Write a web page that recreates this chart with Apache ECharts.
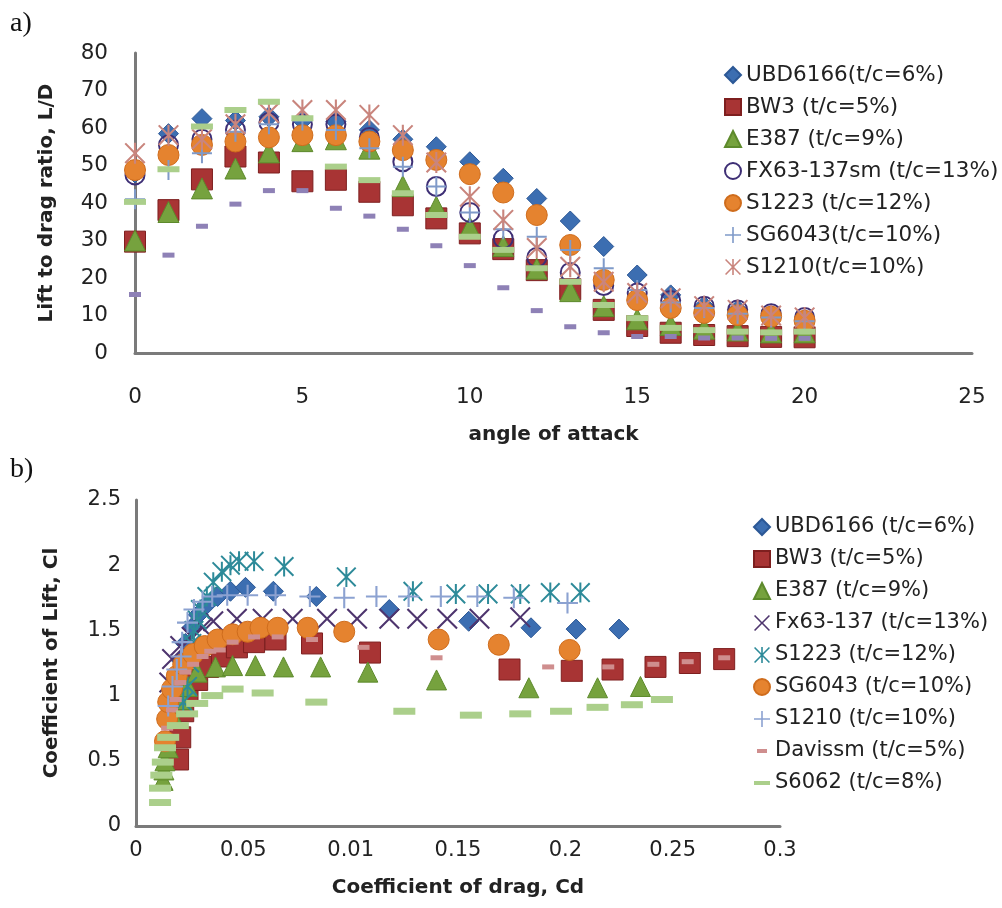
<!DOCTYPE html>
<html>
<head>
<meta charset="utf-8">
<title>Airfoil performance</title>
<script src="https://cdn.jsdelivr.net/npm/echarts@6/dist/echarts.min.js"></script>
<style>
  html, body { margin: 0; padding: 0; background: #fff; }
  #chartA { position: absolute; left: 0; top: 0; width: 1002px; height: 450px; }
  #chartB { position: absolute; left: 0; top: 450px; width: 1002px; height: 458px; }
</style>
</head>
<body>
<div id="chartA"></div>
<div id="chartB"></div>
<script>
// ---------- a) lift-to-drag ratio against angle of attack ----------
const angles = [0,1,2,3,4,5,6,7,8,9,10,11,12,13,14,15,16,17,18,19,20];
const ldUBD6166 = [48, 58.5, 62.5, 62, 63, 62, 61.7, 59.5, 57, 55, 51, 46.6, 41.2, 35.2, 28.4, 20.8, 15.5, 12.5, 11.5, 10, 9];
const ldBW3     = [29.7, 38.1, 46.3, 52.4, 50.8, 45.8, 46.2, 43.0, 39.4, 35.9, 31.9, 27.7, 22.1, 17, 11.5, 7.2, 5.4, 4.8, 4.5, 4.3, 4.2];
const ldE387    = [30, 37.6, 43.9, 49.2, 53.5, 56.5, 57, 54.5, 44.5, 39, 33.5, 28.5, 22.5, 16.5, 12.5, 9, 7.5, 6.5, 6, 5.5, 5.5];
const ldFX63    = [47.5, 55.5, 57, 59.5, 61.5, 61, 61, 57.5, 51, 44.4, 37.5, 30.5, 25.5, 21.5, 18, 16, 14, 12.5, 11.5, 10.5, 9.5];
const ldS1223   = [48.8, 52.8, 55.5, 56.4, 57.5, 58.1, 58.1, 56.4, 54.1, 51.5, 47.7, 42.8, 36.8, 28.8, 19.5, 14.1, 12, 10.7, 10.1, 9.7, 8.6];
const ldSG6043  = [41, 48.8, 53.3, 59, 61, 62, 59.5, 54.6, 49.7, 44.4, 37.5, 33, 31, 27.5, 22.6, 16.8, 13.5, 12, 10.5, 9.5, 8.5];
const ldS1210   = [53.3, 58.1, 57, 61, 64, 64.8, 64.8, 63.5, 58.1, 50.8, 41.7, 35.5, 28, 23, 19, 16, 14.6, 12.5, 11.5, 10, 9.5];
const ldS6062   = [40.3, 49, 60.4, 64.8, 67, 62.6, 49.7, 46.1, 42.6, 36.8, 31, 27.5, 22.6, 19, 12.8, 9.3, 6.7, 6.1, 5.7, 5.5, 5.7];
const ldDavissm = [15.6, 26.1, 33.8, 39.7, 43.3, 43.3, 38.6, 36.5, 33.0, 28.6, 23.3, 17.4, 11.3, 7.0, 5.4, 4.4, 4.4, 4.0, 4.0, 3.9, 3.9];

const namesA = ['UBD6166(t/c=6%)', 'BW3 (t/c=5%)', 'E387 (t/c=9%)', 'FX63-137sm (t/c=13%)',
                'S1223 (t/c=12%)', 'SG6043(t/c=10%)', 'S1210(t/c=10%)'];
const yTicksA = [0, 10, 20, 30, 40, 50, 60, 70, 80];
const xTicksA = [0, 5, 10, 15, 20, 25];

// ---------- b) lift coefficient against drag coefficient ----------
const cdUBD6166 = [0.0155, 0.017, 0.019, 0.021, 0.023, 0.026, 0.029, 0.033, 0.038, 0.044, 0.051, 0.064, 0.084, 0.118, 0.155, 0.184, 0.205, 0.225];
const clUBD6166 = [0.82, 0.98, 1.12, 1.27, 1.4, 1.52, 1.62, 1.70, 1.76, 1.80, 1.83, 1.80, 1.76, 1.66, 1.57, 1.52, 1.51, 1.51];
const cdBW3 = [0.0196, 0.0206, 0.022, 0.024, 0.0285, 0.0336, 0.040, 0.047, 0.055, 0.065, 0.082, 0.109, 0.174, 0.203, 0.222, 0.242, 0.258, 0.274];
const clBW3 = [0.51, 0.68, 0.88, 1.02, 1.12, 1.22, 1.30, 1.37, 1.41, 1.43, 1.40, 1.33, 1.20, 1.19, 1.20, 1.22, 1.25, 1.28];
const cdE387 = [0.0126, 0.013, 0.0135, 0.015, 0.0173, 0.0215, 0.024, 0.0285, 0.037, 0.045, 0.0556, 0.0687, 0.086, 0.108, 0.140, 0.183, 0.215, 0.235];
const clE387 = [0.35, 0.43, 0.5, 0.6, 0.84, 0.97, 1.07, 1.18, 1.22, 1.23, 1.23, 1.22, 1.22, 1.18, 1.12, 1.06, 1.06, 1.07];
const cdFx63 = [0.0155, 0.0168, 0.0206, 0.026, 0.031, 0.036, 0.047, 0.059, 0.073, 0.089, 0.103, 0.118, 0.131, 0.145, 0.160, 0.179];
const clFx63 = [1.1, 1.28, 1.38, 1.45, 1.52, 1.57, 1.59, 1.59, 1.59, 1.59, 1.59, 1.59, 1.59, 1.59, 1.59, 1.60];
const cdS1223 = [0.022, 0.024, 0.025, 0.026, 0.027, 0.0285, 0.030, 0.033, 0.036, 0.040, 0.044, 0.048, 0.055, 0.069, 0.098, 0.129, 0.149, 0.164, 0.179, 0.193, 0.207];
const clS1223 = [0.95, 1.07, 1.25, 1.40, 1.50, 1.58, 1.66, 1.76, 1.87, 1.95, 2.0, 2.03, 2.03, 1.99, 1.91, 1.80, 1.78, 1.78, 1.78, 1.79, 1.79];
const cdSG6043 = [0.0135, 0.0145, 0.015, 0.0168, 0.019, 0.022, 0.0266, 0.032, 0.038, 0.045, 0.052, 0.058, 0.066, 0.080, 0.097, 0.141, 0.169, 0.202];
const clSG6043 = [0.65, 0.82, 0.95, 1.05, 1.15, 1.24, 1.32, 1.38, 1.43, 1.47, 1.49, 1.52, 1.52, 1.52, 1.49, 1.43, 1.39, 1.35];
const cdS1210 = [0.015, 0.017, 0.019, 0.021, 0.0215, 0.024, 0.027, 0.031, 0.0355, 0.0425, 0.052, 0.065, 0.081, 0.097, 0.112, 0.127, 0.142, 0.159, 0.176, 0.201];
const clS1210 = [0.92, 1.07, 1.2, 1.3, 1.41, 1.56, 1.66, 1.72, 1.76, 1.77, 1.77, 1.77, 1.76, 1.75, 1.76, 1.76, 1.76, 1.76, 1.75, 1.71];
const cdDavissm = [0.013, 0.0145, 0.0168, 0.0185, 0.0206, 0.023, 0.0266, 0.031, 0.0346, 0.039, 0.045, 0.055, 0.066, 0.082, 0.106, 0.140, 0.192, 0.220, 0.241, 0.257, 0.274];
const clDavissm = [0.6, 0.75, 0.89, 0.97, 1.10, 1.18, 1.24, 1.30, 1.34, 1.35, 1.41, 1.45, 1.45, 1.43, 1.37, 1.29, 1.22, 1.22, 1.24, 1.26, 1.29];
const cdS6062 = [0.0112, 0.0112, 0.0118, 0.0125, 0.0135, 0.015, 0.0195, 0.0238, 0.0285, 0.0355, 0.045, 0.059, 0.084, 0.125, 0.156, 0.179, 0.198, 0.215, 0.231, 0.245];
const clS6062 = [0.18, 0.29, 0.39, 0.49, 0.60, 0.68, 0.77, 0.86, 0.94, 1.0, 1.05, 1.02, 0.95, 0.88, 0.85, 0.86, 0.88, 0.91, 0.93, 0.97];

const namesB = ['UBD6166 (t/c=6%)', 'BW3 (t/c=5%)', 'E387 (t/c=9%)', 'Fx63-137 (t/c=13%)',
                'S1223 (t/c=12%)', 'SG6043 (t/c=10%)', 'S1210 (t/c=10%)', 'Davissm (t/c=5%)', 'S6062 (t/c=8%)'];
const yTicksB = ['0', '0.5', '1', '1.5', '2', '2.5'];
const xTicksB = ['0', '0.05', '0.01', '0.15', '0.2', '0.25', '0.3'];

// ---------- marker shapes ----------
const PLUS = 'path://M9,0h2v9h9v2h-9v9h-2v-9h-9v-2h9z';
const XMARK = 'path://M0,1.4L1.4,0L10,8.6L18.6,0L20,1.4L11.4,10L20,18.6L18.6,20L10,11.4L1.4,20L0,18.6L8.6,10Z';
const STAR = 'path://M0,1.4L1.4,0L10,8.6L18.6,0L20,1.4L11.4,10L20,18.6L18.6,20L10,11.4L1.4,20L0,18.6L8.6,10Z M9,0h2v20h-2z';
const DASH_ICON_SHORT = 'path://M0,0L0,0M16,16L16,16M3,6h10v4h-10z';
const DASH_ICON_LONG = 'path://M0,0L0,0M16,16L16,16M0,6h16v4h-16z';

const C = {
  blue: '#3C6EB1', blueEdge: '#2C5896',
  red: '#A83434', redEdge: '#7E1F1F',
  green: '#76A23E', greenEdge: '#5D8A2C',
  purple: '#3E2F75', xPurple: '#4E356E',
  orange: '#E5832F', orangeEdge: '#CF6C1C',
  steel: '#7F9AC9', pink: '#C9857D', teal: '#2D8A99',
  lightGreen: '#ABCF8B', lavender: '#8E81B6', rose: '#CF8E8E'
};

const FONT = 'DejaVu Sans';
const TEXT = '#222';

function pairs(xs, ys) { return xs.map((x, i) => [x, ys[i]]); }
function byAngle(vals) { return angles.map((a, i) => [a, vals[i]]); }

function sc(name, data, symbol, size, color, edge, edgeWidth, z) {
  return {
    type: 'scatter', name, data, symbol, symbolSize: size,
    itemStyle: { color, borderColor: edge || color, borderWidth: edgeWidth == null ? 0 : edgeWidth, opacity: 1 },
    emphasis: { disabled: true }, z: z || 2
  };
}

function axisLine() { return { show: true, lineStyle: { color: '#7A7A7A', width: 3 } }; }

// ---------- chart a ----------
const chartA = echarts.init(document.getElementById('chartA'), null, { renderer: 'canvas' });
chartA.setOption({
  animation: false,
  backgroundColor: '#fff',
  textStyle: { fontFamily: FONT },
  grid: { left: 135, top: 53, width: 837, height: 300, containLabel: false },
  xAxis: {
    type: 'value', min: xTicksA[0], max: xTicksA[xTicksA.length - 1], interval: 5,
    axisLine: axisLine(), axisTick: { show: false }, splitLine: { show: false },
    axisLabel: { margin: 33, fontSize: 21.5, color: TEXT, fontFamily: FONT },
    name: 'angle of attack', nameLocation: 'middle', nameGap: 72,
    nameTextStyle: { fontSize: 20, fontWeight: 'bold', color: TEXT, fontFamily: FONT }
  },
  yAxis: {
    type: 'value', min: yTicksA[0], max: yTicksA[yTicksA.length - 1], interval: 10,
    axisLine: axisLine(), axisTick: { show: false }, splitLine: { show: false },
    axisLabel: { margin: 27, fontSize: 21.5, color: TEXT, fontFamily: FONT },
    name: 'Lift to drag ratio, L/D', nameLocation: 'middle', nameGap: 78,
    nameTextStyle: { fontSize: 20, fontWeight: 'bold', color: TEXT, fontFamily: FONT }
  },
  legend: {
    orient: 'vertical', left: 719, top: 59, itemWidth: 16, itemHeight: 16, itemGap: 10,
    selectedMode: false,
    textStyle: { fontFamily: FONT, fontSize: 21.5, color: TEXT, lineHeight: 22 },
    data: namesA
  },
  graphic: [{ type: 'text', left: 10, top: 10, style: { text: 'a)', font: '28px "Liberation Serif", serif', fill: '#111' } }],
  series: [
    sc(namesA[0], byAngle(ldUBD6166), 'diamond', 20, C.blue, C.blueEdge, 1),
    sc(namesA[1], byAngle(ldBW3), 'rect', 21, C.red, C.redEdge, 1),
    sc(namesA[2], byAngle(ldE387), 'triangle', 21, C.green, C.greenEdge, 1),
    sc(namesA[3], byAngle(ldFX63), 'circle', 19, 'rgba(255,255,255,0)', C.purple, 2),
    sc(namesA[4], byAngle(ldS1223), 'circle', 21, C.orange, C.orangeEdge, 1),
    sc(namesA[5], byAngle(ldSG6043), PLUS, 20, C.steel),
    sc(namesA[6], byAngle(ldS1210), STAR, 21, C.pink),
    sc('S6062 (t/c=8%)', byAngle(ldS6062), 'rect', [22, 6], C.lightGreen),
    sc('Davissm (t/c=5%)', byAngle(ldDavissm), 'rect', [12, 5], C.lavender)
  ]
});

// ---------- chart b ----------
const chartB = echarts.init(document.getElementById('chartB'), null, { renderer: 'canvas' });
chartB.setOption({
  animation: false,
  backgroundColor: '#fff',
  textStyle: { fontFamily: FONT },
  grid: { left: 136, top: 50, width: 644, height: 326, containLabel: false },
  xAxis: {
    type: 'value', min: 0, max: 0.3, interval: 0.05,
    axisLine: axisLine(), axisTick: { show: false }, splitLine: { show: false },
    axisLabel: { margin: 14, fontSize: 21, color: TEXT, fontFamily: FONT,
                 formatter: v => xTicksB[Math.round(v / 0.05)] },
    name: 'Coefficient of drag, Cd', nameLocation: 'middle', nameGap: 52,
    nameTextStyle: { fontSize: 20, fontWeight: 'bold', color: TEXT, fontFamily: FONT }
  },
  yAxis: {
    type: 'value', min: 0, max: 2.5, interval: 0.5,
    axisLine: axisLine(), axisTick: { show: false }, splitLine: { show: false },
    axisLabel: { margin: 15, fontSize: 21, color: TEXT, fontFamily: FONT,
                 formatter: v => yTicksB[Math.round(v / 0.5)] },
    name: 'Coefficient of Lift, Cl', nameLocation: 'middle', nameGap: 74,
    nameTextStyle: { fontSize: 20, fontWeight: 'bold', color: TEXT, fontFamily: FONT }
  },
  legend: {
    orient: 'vertical', left: 748, top: 61, itemWidth: 16, itemHeight: 16, itemGap: 10,
    selectedMode: false,
    textStyle: { fontFamily: FONT, fontSize: 21, color: TEXT, lineHeight: 22 },
    data: namesB.map((n, i) => i === 7 ? { name: n, icon: DASH_ICON_SHORT }
                           : i === 8 ? { name: n, icon: DASH_ICON_LONG } : n)
  },
  graphic: [{ type: 'text', left: 10, top: 6, style: { text: 'b)', font: '28px "Liberation Serif", serif', fill: '#111' } }],
  series: [
    sc(namesB[0], pairs(cdUBD6166, clUBD6166), 'diamond', 20, C.blue, C.blueEdge, 1),
    sc(namesB[1], pairs(cdBW3, clBW3), 'rect', 21, C.red, C.redEdge, 1),
    sc(namesB[2], pairs(cdE387, clE387), 'triangle', 20, C.green, C.greenEdge, 1),
    sc(namesB[3], pairs(cdFx63, clFx63), XMARK, 21, C.xPurple),
    sc(namesB[4], pairs(cdS1223, clS1223), STAR, 20, C.teal),
    sc(namesB[5], pairs(cdSG6043, clSG6043), 'circle', 21, C.orange, C.orangeEdge, 1),
    sc(namesB[6], pairs(cdS1210, clS1210), PLUS, 21, '#8CA2D1'),
    sc(namesB[7], pairs(cdDavissm, clDavissm), 'rect', [12, 5], C.rose),
    sc(namesB[8], pairs(cdS6062, clS6062), 'rect', [22, 7], C.lightGreen)
  ]
});
</script>
</body>
</html>
